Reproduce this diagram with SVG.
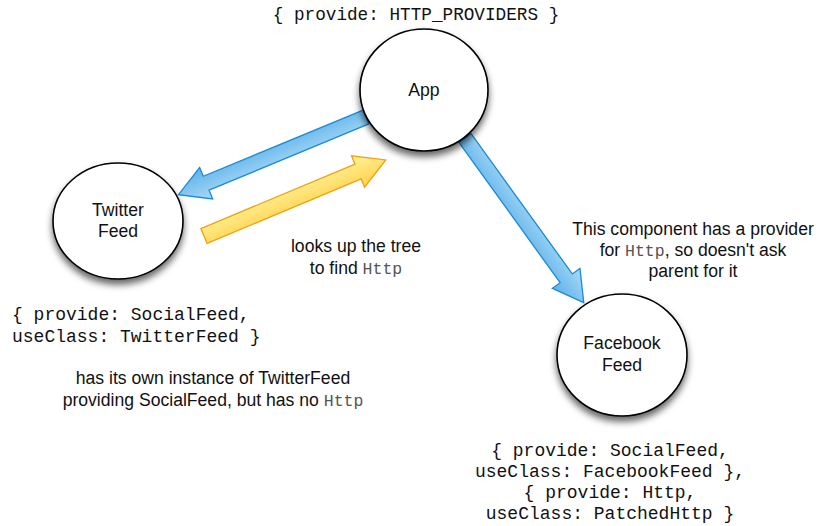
<svg xmlns="http://www.w3.org/2000/svg" width="822" height="526" viewBox="0 0 822 526">
<defs>
<style>
.node{fill:#fff;stroke:#000;stroke-width:1.6;filter:url(#sh)}
.lbl{font-family:"Liberation Sans",Arial,sans-serif;font-size:17.6px;fill:#111;text-anchor:middle}
.code{font-family:"Liberation Mono","Courier New",monospace;font-size:18px;fill:#111}
.mono{font-family:"Liberation Mono","Courier New",monospace;fill:#555;font-size:16.5px}
.blue{fill:url(#gb);stroke:#1a8ad6;stroke-width:1.3;stroke-linejoin:miter}
.yel{fill:url(#gy);stroke:#f0a010;stroke-width:1.3;stroke-linejoin:miter}
</style>
<filter id="sh" x="-30%" y="-30%" width="160%" height="170%">
<feDropShadow dx="0" dy="5" stdDeviation="3.5" flood-color="#000" flood-opacity="0.6"/>
</filter>
<linearGradient id="gb" x1="0" y1="0" x2="0" y2="1">
<stop offset="0" stop-color="#a9d9f6"/>
<stop offset="1" stop-color="#5db2ea"/>
</linearGradient>
<linearGradient id="gy" x1="0" y1="0" x2="0" y2="1">
<stop offset="0" stop-color="#fff29a"/>
<stop offset="1" stop-color="#ffd24d"/>
</linearGradient>
</defs>
<rect width="822" height="526" fill="#fff"/>
<g id="connectors">
<polygon class="blue" transform="translate(366,117) rotate(157.5)" points="0,-7.5 173,-7.5 173,-17 203,0 173,17 173,7.5 0,7.5"/>
<polygon class="yel" transform="translate(204,236) rotate(-22.7)" points="0,-8 167,-8 167,-17 197,0 167,17 167,8 0,8"/>
<polygon class="blue" transform="translate(465,138) rotate(54.2)" points="0,-7.5 173,-7.5 173,-17 203,0 173,17 173,7.5 0,7.5"/>
</g>
<g id="app">
<ellipse class="node" cx="424" cy="90" rx="64" ry="61"/>
<text class="lbl" x="424" y="96">App</text>
</g>
<g id="twitter">
<ellipse class="node" cx="118" cy="221" rx="65" ry="58"/>
<text class="lbl" x="118" y="216">Twitter</text>
<text class="lbl" x="118" y="237">Feed</text>
</g>
<g id="facebook">
<ellipse class="node" cx="622" cy="355" rx="65" ry="61"/>
<text class="lbl" x="622" y="349">Facebook</text>
<text class="lbl" x="622" y="371">Feed</text>
</g>
<g id="texts">
<text class="code" x="416" y="20" text-anchor="middle" style="font-size:17.7px">{ provide: HTTP_PROVIDERS }</text>
<text class="code" x="12" y="320">{ provide: SocialFeed,</text>
<text class="code" x="12" y="342">useClass: TwitterFeed }</text>
<text class="lbl" x="213" y="384">has its own instance of TwitterFeed</text>
<text class="lbl" x="213" y="406">providing SocialFeed, but has no <tspan class="mono">Http</tspan></text>
<text class="lbl" x="356" y="252">looks up the tree</text>
<text class="lbl" x="356" y="274">to find <tspan class="mono">Http</tspan></text>
<text class="lbl" x="693" y="235">This component has a provider</text>
<text class="lbl" x="693" y="256">for <tspan class="mono">Http</tspan>, so doesn't ask</text>
<text class="lbl" x="693" y="277">parent for it</text>
<text class="code" x="610" y="456" text-anchor="middle">{ provide: SocialFeed,</text>
<text class="code" x="610" y="477" text-anchor="middle">useClass: FacebookFeed },</text>
<text class="code" x="610" y="498" text-anchor="middle">{ provide: Http,</text>
<text class="code" x="610" y="519" text-anchor="middle">useClass: PatchedHttp }</text>
</g>
</svg>
